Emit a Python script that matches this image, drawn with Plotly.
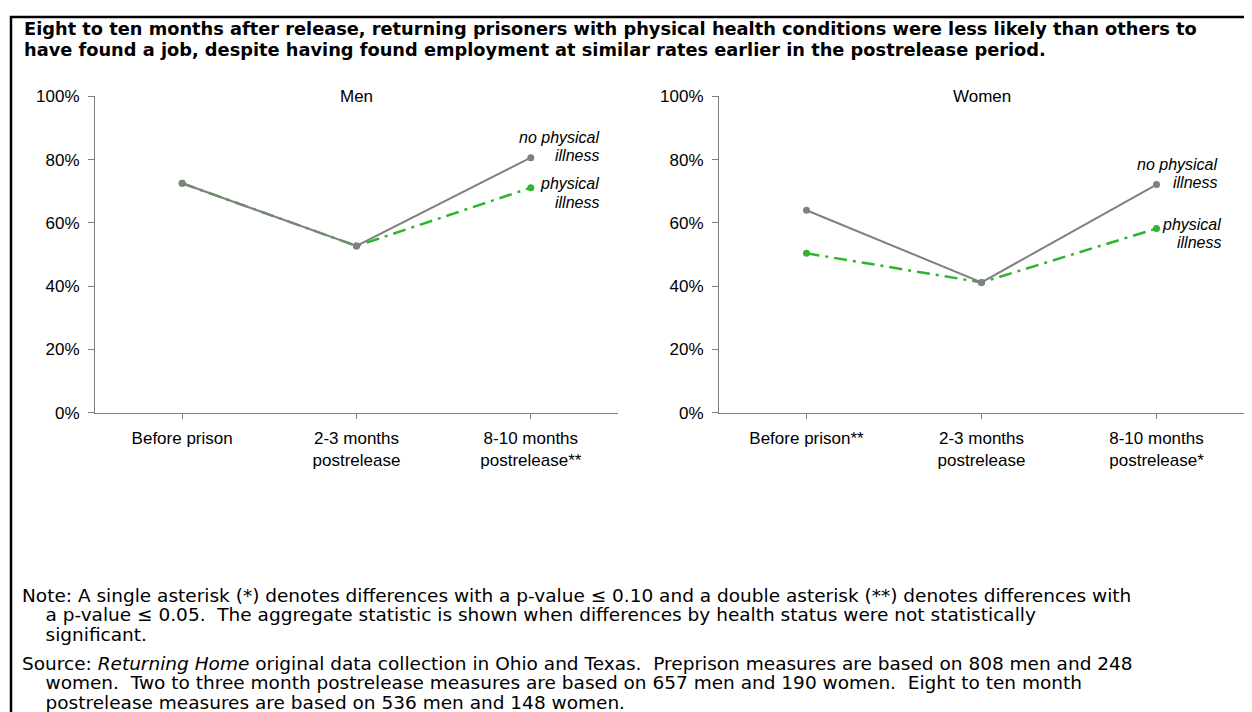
import plotly.graph_objects as go

W, H = 1252, 712

categories_men = ["Before prison", "2-3 months<br>postrelease", "8-10 months<br>postrelease**"]
categories_women = ["Before prison**", "2-3 months<br>postrelease", "8-10 months<br>postrelease*"]

# Employment rates (%)
men_no_illness = [72.5, 52.7, 80.6]
men_illness = [72.5, 52.7, 71.1]
women_no_illness = [64.0, 41.2, 72.1]
women_illness = [50.4, 41.2, 58.2]

y_ticks = [0, 20, 40, 60, 80, 100]
y_tick_labels = ["0%", "20%", "40%", "60%", "80%", "100%"]

title_lines = [
    "Eight to ten months after release, returning prisoners with physical health conditions were less likely than others to",
    "have found a job, despite having found employment at similar rates earlier in the postrelease period.",
]
note_lines = [
    "Note: A single asterisk (*) denotes differences with a p-value \u2264 0.10 and a double asterisk (**) denotes differences with",
    "a p-value \u2264 0.05.\u00a0 The aggregate statistic is shown when differences by health status were not statistically",
    "significant.",
]
source_lines = [
    "Source: <i>Returning Home</i> original data collection in Ohio and Texas.\u00a0 Preprison measures are based on 808 men and 248",
    "women.\u00a0 Two to three month postrelease measures are based on 657 men and 190 women.\u00a0 Eight to ten month",
    "postrelease measures are based on 536 men and 148 women.",
]

GREY = "#808080"
GREEN = "#2db52d"
DASH = "13px,6px,3px,6px"


def px(x):
    return x / W


def py(y):
    return 1 - y / H


fig = go.Figure()

x_idx = [0, 1, 2]
for xa, ya, ill, noill in [("x", "y", men_illness, men_no_illness), ("x2", "y2", women_illness, women_no_illness)]:
    fig.add_trace(go.Scatter(x=x_idx, y=ill, mode="lines+markers", xaxis=xa, yaxis=ya,
                             line=dict(color=GREEN, width=2.5, dash=DASH), marker=dict(color=GREEN, size=7),
                             showlegend=False, name="physical illness"))
    fig.add_trace(go.Scatter(x=x_idx, y=noill, mode="lines+markers", xaxis=xa, yaxis=ya,
                             line=dict(color=GREY, width=2), marker=dict(color=GREY, size=7),
                             showlegend=False, name="no physical illness"))

ARIAL = "Liberation Sans, Arial, sans-serif"
ydom = [py(406.7), py(81.4)]


def xaxis(dom, labels):
    return dict(domain=dom, range=[-0.5, 2.5], tickmode="array", tickvals=x_idx, ticktext=labels,
                tickson="boundaries", ticks="outside", ticklen=5, tickcolor=GREY,
                showline=True, linecolor=GREY, linewidth=1, showgrid=False, zeroline=False,
                tickfont=dict(family=ARIAL, size=17, color="#000"), ticklabelstandoff=5, fixedrange=True)


def yaxis(anchor):
    return dict(domain=ydom, range=[0, 100], tickmode="array", tickvals=y_ticks, ticktext=y_tick_labels,
                ticks="outside", ticklen=6, tickcolor=GREY, showline=True, linecolor=GREY, linewidth=1,
                showgrid=False, zeroline=False, tickfont=dict(family=ARIAL, size=17, color="#000"),
                ticklabelstandoff=5, anchor=anchor, fixedrange=True)


annotations = []
TXT = "DejaVu Sans, sans-serif"


def add_text(x, y, text, font, xanchor="left"):
    annotations.append(dict(x=px(x), y=py(y), xref="paper", yref="paper", xanchor=xanchor, yanchor="middle",
                            text=text, showarrow=False, font=font, align="left"))


for i, line in enumerate(title_lines):
    add_text(14, 12.1 + 21 * i, "<b>" + line + "</b>", dict(family=TXT, size=17.8, color="#000"))

# Note / source blocks: one annotation each, hanging indent with non-breaking spaces
SPACING = 19.45
GLYPH = 18.5
INDENT = "\u00a0" * 4


def block(lines):
    parts = []
    for i, line in enumerate(lines):
        parts.append("<span style='font-size:%spx'>%s%s</span>" % (GLYPH, "" if i == 0 else INDENT, line))
    return "<br>".join(parts)


add_text(12, 614.3, block(note_lines), dict(family=TXT, size=SPACING / 1.3, color="#000"))
add_text(12, 684.0, block(source_lines), dict(family=TXT, size=SPACING / 1.3, color="#000"))

lab = dict(family=ARIAL, size=17, color="#000")
add_text(348.5, 81.7, "Men", lab, "center")
add_text(973.5, 81.7, "Women", lab, "center")

ital = dict(family=ARIAL, size=16, color="#000", style="italic")
add_text(593, 123.6, "no physical", ital, "right")
add_text(593, 142.1, "illness", ital, "right")
add_text(593, 170.7, "physical", ital, "right")
add_text(593, 190.2, "illness", ital, "right")
add_text(1211, 151.6, "no physical", ital, "right")
add_text(1211, 170.4, "illness", ital, "right")
add_text(1215, 213.0, "physical", ital, "right")
add_text(1215, 232.1, "illness", ital, "right")

fig.update_layout(
    width=W, height=H, margin=dict(l=0, r=0, t=0, b=0, pad=0),
    paper_bgcolor="white", plot_bgcolor="white",
    xaxis=xaxis([px(87), px(610)], categories_men),
    yaxis=yaxis("x"),
    xaxis2=xaxis([px(711), px(1236)], categories_women),
    yaxis2=yaxis("x2"),
    annotations=annotations,
    shapes=[dict(type="rect", xref="paper", yref="paper", x0=px(3), x1=1.05, y0=-0.05, y1=py(0),
                 line=dict(color="#000", width=2.5), fillcolor="rgba(0,0,0,0)", layer="above")],
    showlegend=False,
)

fig.write_html("out.html", config={"displayModeBar": False})
